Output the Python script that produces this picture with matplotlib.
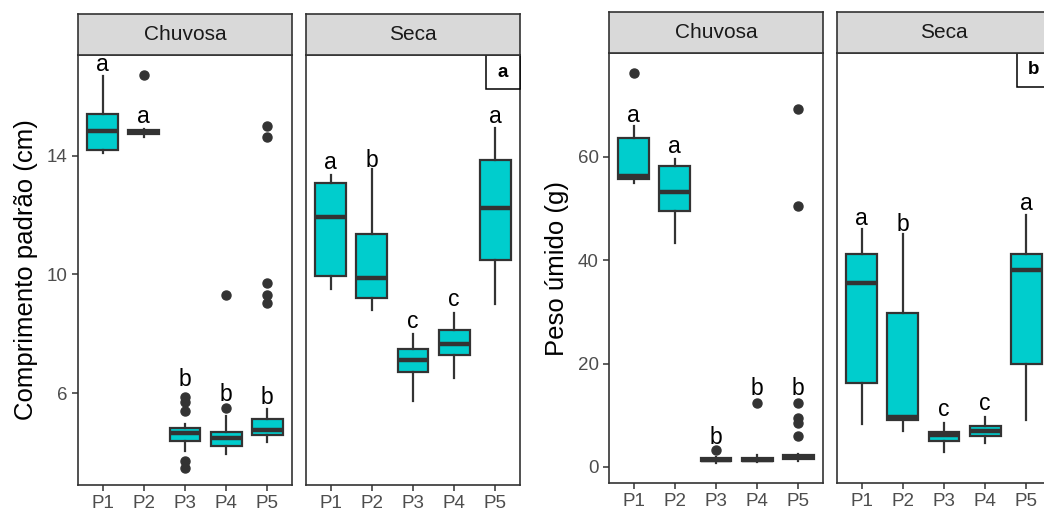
import matplotlib
matplotlib.use("Agg")
import matplotlib.pyplot as plt
from matplotlib.patches import Rectangle

plt.rcParams['font.family'] = ['Liberation Sans', 'DejaVu Sans']

pontos = ['P1', 'P2', 'P3', 'P4', 'P5']
estacoes = ['Chuvosa', 'Seca']

# Comprimento padrao (cm) - Chuvosa
comp_chuv_med = [14.85, 14.82, 4.64, 4.49, 4.74]
comp_chuv_q1 = [14.2, 14.72, 4.40, 4.23, 4.59]
comp_chuv_q3 = [15.41, 14.88, 4.81, 4.68, 5.13]
comp_chuv_wlo = [14.09, 14.65, 4.06, 3.95, 4.34]
comp_chuv_whi = [16.7, 14.9, 4.96, 5.22, 5.47]
comp_chuv_out = [[], [16.74], [5.87, 5.70, 5.39, 3.72, 3.49], [5.51, 9.32], [14.99, 14.65, 9.71, 9.32, 9.03]]
comp_chuv_let = ['a', 'a', 'b', 'b', 'b']
comp_chuv_lety = [17.07, 15.32, 6.45, 5.95, 5.85]

# Comprimento padrao (cm) - Seca
comp_seca_med = [11.93, 9.89, 7.11, 7.67, 12.23]
comp_seca_q1 = [9.95, 9.19, 6.71, 7.28, 10.49]
comp_seca_q3 = [13.08, 11.35, 7.50, 8.12, 13.86]
comp_seca_wlo = [9.5, 8.8, 5.73, 6.51, 8.99]
comp_seca_whi = [13.36, 13.55, 7.98, 8.69, 14.94]
comp_seca_out = [[], [], [], [], []]
comp_seca_let = ['a', 'b', 'c', 'c', 'a']
comp_seca_lety = [13.76, 13.85, 8.40, 9.14, 15.31]

# Peso umido (g) - Chuvosa
peso_chuv_med = [56.3, 53.2, 1.4, 1.4, 1.9]
peso_chuv_q1 = [55.8, 49.5, 1.1, 1.2, 1.5]
peso_chuv_q3 = [63.56, 58.2, 1.74, 1.8, 2.3]
peso_chuv_wlo = [55.0, 43.4, 0.8, 0.9, 1.2]
peso_chuv_whi = [65.9, 59.5, 2.0, 2.4, 2.6]
peso_chuv_out = [[76.2], [], [3.2], [12.4], [69.35, 50.5, 12.4, 9.5, 8.6, 5.9]]
peso_chuv_let = ['a', 'a', 'b', 'b', 'b']
peso_chuv_lety = [68.06, 61.93, 5.8, 15.1, 15.1]

# Peso umido (g) - Seca
peso_seca_med = [35.65, 9.76, 6.1, 7.05, 38.2]
peso_seca_q1 = [16.2, 9.0, 5.1, 5.9, 20.0]
peso_seca_q3 = [41.2, 29.7, 6.8, 8.0, 41.3]
peso_seca_wlo = [8.35, 7.0, 2.9, 4.6, 9.0]
peso_seca_whi = [46.0, 45.0, 8.5, 9.6, 48.7]
peso_seca_out = [[], [], [], [], []]
peso_seca_let = ['a', 'b', 'c', 'c', 'a']
peso_seca_lety = [48.1, 47.0, 11.2, 12.35, 51.0]

W, H = 1044, 515
fig = plt.figure(figsize=(W / 100, H / 100), dpi=100)

cinza = '#333333'
ciano = '#00CDCD'


def painel(x0, x1, ytop, ybot, strip_top, titulo, med, q1, q3, wlo, whi, out, letras, lety,
           ylim, yticks, primeiro, ylabel=None, tag=None):
    ax = fig.add_axes([x0 / W, (H - ybot) / H, (x1 - x0) / W, (ybot - ytop) / H])
    stats = []
    for i in range(5):
        stats.append(dict(med=med[i], q1=q1[i], q3=q3[i], whislo=wlo[i], whishi=whi[i],
                          fliers=out[i]))
    ax.bxp(stats, positions=range(1, 6), widths=0.75, patch_artist=True, showcaps=False,
           boxprops=dict(facecolor=ciano, edgecolor=cinza, linewidth=1.6),
           medianprops=dict(color=cinza, linewidth=3.2, solid_capstyle='butt'),
           whiskerprops=dict(color=cinza, linewidth=1.6),
           flierprops=dict(marker='o', markerfacecolor=cinza, markeredgecolor=cinza,
                           markersize=6.5))
    for i in range(5):
        ax.text(i + 1, lety[i], letras[i], ha='center', va='center', fontsize=16.5, color='black')
    ax.set_xlim(0.4, 5.6)
    ax.set_ylim(*ylim)
    ax.set_xticks(range(1, 6))
    ax.set_xticklabels(pontos)
    ax.set_yticks(yticks)
    ax.tick_params(axis='both', colors=cinza, labelcolor='#4D4D4D', labelsize=13.5,
                   length=4, width=1.1)
    if not primeiro:
        ax.tick_params(axis='y', left=False, labelleft=False)
    for s in ax.spines.values():
        s.set_color(cinza)
        s.set_linewidth(1.2)
    if ylabel:
        ax.set_ylabel(ylabel, fontsize=18.5, color='black', labelpad=6)
    if tag:
        ax.add_patch(Rectangle((1 - 34 / (x1 - x0), 1 - 34 / (ybot - ytop)),
                               34 / (x1 - x0), 34 / (ybot - ytop), transform=ax.transAxes,
                               facecolor='white', edgecolor='black', linewidth=1.1,
                               clip_on=False, zorder=5))
        ax.text(1 - 17 / (x1 - x0), 1 - 17 / (ybot - ytop), tag, transform=ax.transAxes,
                ha='center', va='center', fontsize=13.5, fontweight='bold', zorder=6)
    # faixa do titulo
    st = fig.add_axes([x0 / W, (H - ytop) / H, (x1 - x0) / W, (ytop - strip_top) / H])
    st.set_facecolor('#D9D9D9')
    st.set_xticks([])
    st.set_yticks([])
    for s in st.spines.values():
        s.set_color(cinza)
        s.set_linewidth(1.2)
    st.text(0.5, 0.5, titulo, transform=st.transAxes, ha='center', va='center',
            fontsize=15, color='#1A1A1A')
    return ax


lim_comp = (2.9, 17.4)
lim_peso = (-3.1, 80.1)

painel(78, 292, 55, 485, 14, estacoes[0], comp_chuv_med, comp_chuv_q1, comp_chuv_q3,
       comp_chuv_wlo, comp_chuv_whi, comp_chuv_out, comp_chuv_let, comp_chuv_lety,
       lim_comp, [6, 10, 14], True, ylabel='Comprimento padrão (cm)')
painel(306, 520, 55, 485, 14, estacoes[1], comp_seca_med, comp_seca_q1, comp_seca_q3,
       comp_seca_wlo, comp_seca_whi, comp_seca_out, comp_seca_let, comp_seca_lety,
       lim_comp, [6, 10, 14], False, tag='a')
painel(609, 823, 53, 483, 12, estacoes[0], peso_chuv_med, peso_chuv_q1, peso_chuv_q3,
       peso_chuv_wlo, peso_chuv_whi, peso_chuv_out, peso_chuv_let, peso_chuv_lety,
       lim_peso, [0, 20, 40, 60], True, ylabel='Peso úmido (g)')
painel(837, 1051, 53, 483, 12, estacoes[1], peso_seca_med, peso_seca_q1, peso_seca_q3,
       peso_seca_wlo, peso_seca_whi, peso_seca_out, peso_seca_let, peso_seca_lety,
       lim_peso, [0, 20, 40, 60], False, tag='b')

fig.savefig('out.png', dpi=100, facecolor='white')
